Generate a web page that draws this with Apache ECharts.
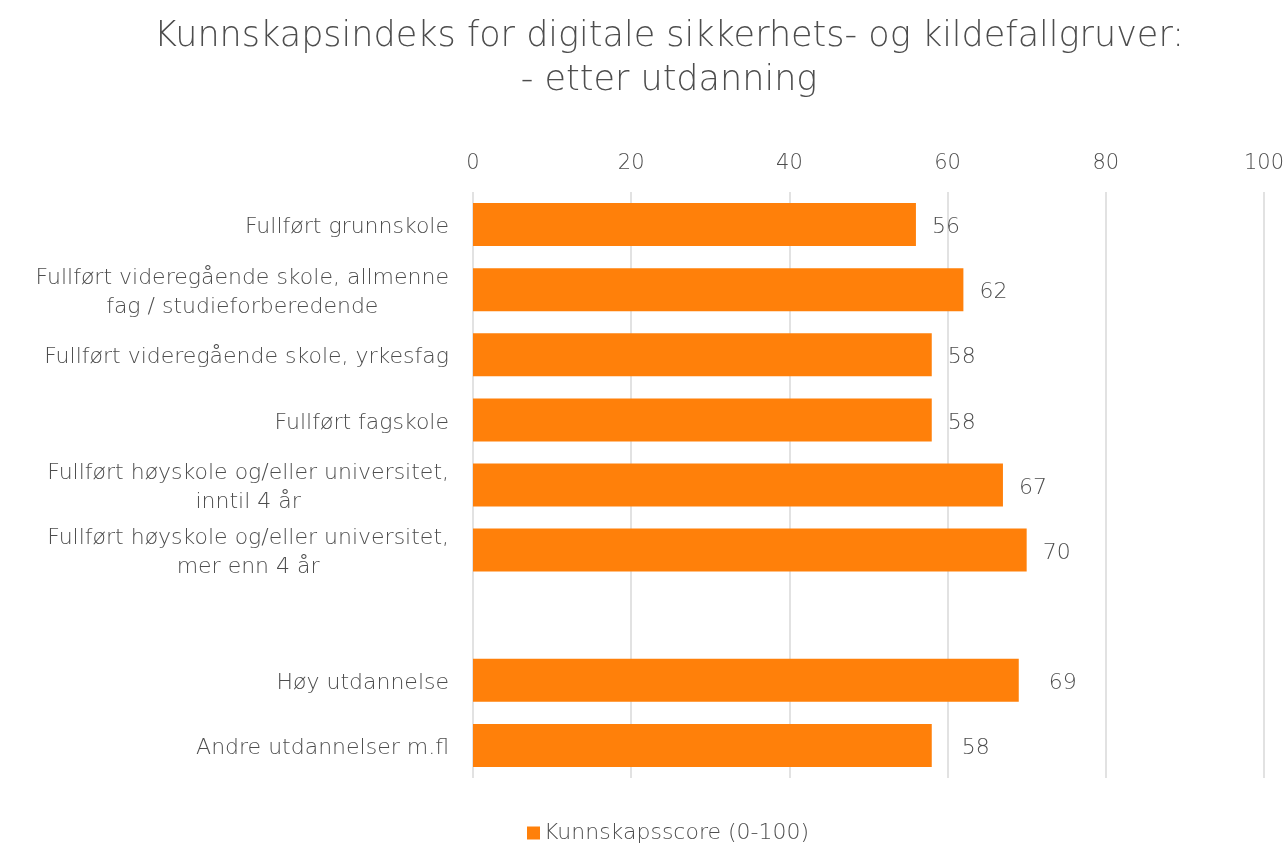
<!DOCTYPE html>
<html>
<head>
<meta charset="utf-8">
<script src="https://cdn.jsdelivr.net/npm/echarts@6/dist/echarts.min.js"></script>
<style>
  html, body { margin: 0; padding: 0; background: #fff; }
  #chart { width: 1287px; height: 845px; }
</style>
</head>
<body>
<div id="chart"></div>
<script>
// Education groups (blank entry separates the detailed groups from the summary groups)
var categories = [
  'Fullført grunnskole',
  'Fullført videregående skole, allmenne\nfag / studieforberedende',
  'Fullført videregående skole, yrkesfag',
  'Fullført fagskole',
  'Fullført høyskole og/eller universitet,\ninntil 4 år',
  'Fullført høyskole og/eller universitet,\nmer enn 4 år',
  '',
  'Høy utdannelse',
  'Andre utdannelser m.fl'
];
var scores = [56, 62, 58, 58, 67, 70, null, 69, 58];
var seriesName = 'Kunnskapsscore (0-100)';
var titleText = 'Kunnskapsindeks for digitale sikkerhets- og kildefallgruver:\n- etter utdanning';

var FONT = 'DejaVu Sans';
var WEIGHT = 200;
var TEXT = '#4D4D4D';
var ORANGE = '#FF800A';
var GRID = '#D9D9D9';

var chart = echarts.init(document.getElementById('chart'), null, { renderer: 'canvas' });

chart.setOption({
  animation: false,
  backgroundColor: '#ffffff',
  title: {
    text: titleText,
    left: 664,
    textAlign: 'center',
    top: 10,
    textStyle: {
      fontFamily: FONT,
      fontWeight: WEIGHT,
      fontSize: 35,
      lineHeight: 44,
      color: TEXT
    }
  },
  legend: {
    bottom: 1,
    left: 527,
    padding: 0,
    icon: 'rect',
    itemWidth: 13,
    itemHeight: 13,
    itemGap: 10,
    textStyle: { fontFamily: FONT, fontWeight: WEIGHT, fontSize: 22, color: TEXT, padding: [0, 0, 0, -1] },
    data: [seriesName]
  },
  grid: { left: 473, right: 22, top: 192, bottom: 67, containLabel: false },
  xAxis: {
    type: 'value',
    position: 'top',
    min: 0,
    max: 100,
    interval: 20,
    axisLine: { show: false },
    axisTick: { show: false },
    axisLabel: { margin: 18, fontFamily: FONT, fontWeight: WEIGHT, fontSize: 21, color: TEXT },
    splitLine: { show: true, lineStyle: { color: GRID, width: 1.5 } }
  },
  yAxis: {
    type: 'category',
    inverse: true,
    data: categories,
    axisLine: { show: false },
    axisTick: { show: false },
    axisLabel: {
      margin: 24,
      align: 'right',
      interval: 0,
      padding: [6, 0, 0, 0],
      fontFamily: FONT,
      fontWeight: WEIGHT,
      fontSize: 22,
      color: TEXT,
      formatter: function (v) {
        return v.split('\n').map(function (line) { return '{c|' + line + '}'; }).join('\n');
      },
      rich: {
        c: { align: 'center', fontFamily: FONT, fontWeight: WEIGHT, fontSize: 22, color: TEXT, lineHeight: 29 }
      }
    }
  },
  series: [{
    name: seriesName,
    type: 'bar',
    barCategoryGap: '34%',
    itemStyle: { color: ORANGE },
    data: scores.map(function (v, i) {
      return {
        value: v,
        label: { distance: i >= 7 ? 30 : 16 }
      };
    }),
    label: {
      show: true,
      position: 'right',
      offset: [0, 3],
      fontFamily: FONT,
      fontWeight: WEIGHT,
      fontSize: 22,
      color: TEXT
    }
  }]
});
</script>
</body>
</html>
